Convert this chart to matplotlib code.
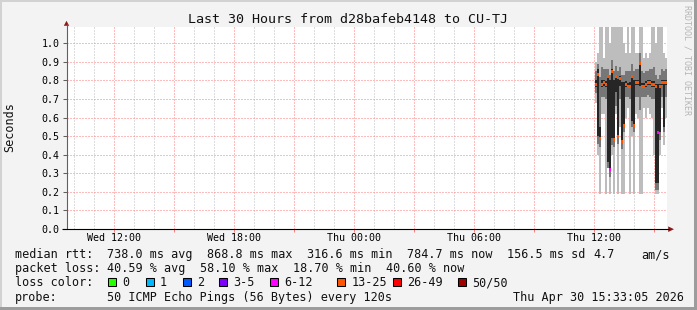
import numpy as np
import matplotlib
matplotlib.use("Agg")
import matplotlib.pyplot as plt
from matplotlib.patches import Rectangle, Polygon

plt.rcParams['font.family'] = ['DejaVu Sans Mono']

# ---------------- data ----------------
title = "Last 30 Hours from d28bafeb4148 to CU-TJ"
ylabel = "Seconds"
view_start, view_end = 9.635, 39.635          # hours since Wed 00:00
tick_hours = [12, 18, 24, 30, 36]
tick_labels = ["Wed 12:00", "Wed 18:00", "Thu 00:00", "Thu 06:00", "Thu 12:00"]
y_ticks = [0.0, 0.1, 0.2, 0.3, 0.4, 0.5, 0.6, 0.7, 0.8, 0.9, 1.0]

first_step = 36.035                            # Thu 12:02
step_hours = 0.1
median = [0.78, 0.83, 0.49, 0.78, 0.79, 0.78, 0.82, 0.32, 0.85, 0.48, 0.82, 0.50,
          0.81, 0.47, 0.56, 0.78, 0.77, 0.77, 0.82, 0.56, 0.79, 0.79, 0.89, 0.77,
          0.77, 0.78, 0.79, 0.79, 0.78, 0.78, 0.77, 0.52, 0.77, 0.79, 0.79, 0.79]
smoke_min = [0.68, 0.40, 0.19, 0.62, 0.62, 0.19, 0.60, 0.19, 0.40, 0.19, 0.62, 0.19,
             0.55, 0.19, 0.19, 0.60, 0.65, 0.19, 0.50, 0.19, 0.62, 0.60, 0.19, 0.19,
             0.65, 0.60, 0.65, 0.62, 0.60, 0.40, 0.19, 0.19, 0.40, 0.65, 0.45, 0.60]
smoke_max = [0.90, 0.95, 1.10, 1.10, 0.92, 1.10, 1.10, 1.00, 1.10, 1.10, 1.10, 1.10,
             1.10, 1.10, 1.00, 0.95, 1.10, 0.95, 1.10, 1.10, 0.95, 0.95, 1.10, 1.10,
             0.92, 0.95, 0.92, 0.95, 1.10, 1.10, 1.00, 1.10, 1.10, 1.10, 0.95, 0.92]
smoke_q_lo = [0.73, 0.46, 0.44, 0.71, 0.71, 0.70, 0.33, 0.28, 0.45, 0.44, 0.66, 0.46,
              0.70, 0.43, 0.52, 0.71, 0.71, 0.70, 0.55, 0.52, 0.71, 0.71, 0.64, 0.71,
              0.71, 0.71, 0.72, 0.71, 0.70, 0.70, 0.21, 0.21, 0.48, 0.71, 0.52, 0.71]
smoke_q_hi = [0.85, 0.89, 0.82, 0.87, 0.86, 0.86, 0.86, 0.83, 0.91, 0.85, 0.88, 0.85,
              0.87, 0.83, 0.83, 0.85, 0.85, 0.85, 0.89, 0.85, 0.86, 0.86, 0.95, 0.85,
              0.84, 0.85, 0.85, 0.86, 0.86, 0.87, 0.83, 0.81, 0.83, 0.86, 0.85, 0.86]
core_lo = [0.765, 0.50, 0.48, 0.765, 0.77, 0.765, 0.36, 0.31, 0.49, 0.48, 0.74, 0.50,
           0.77, 0.47, 0.56, 0.765, 0.76, 0.76, 0.58, 0.56, 0.775, 0.775, 0.77, 0.76,
           0.76, 0.765, 0.775, 0.775, 0.765, 0.765, 0.25, 0.25, 0.52, 0.775, 0.55, 0.775]
core_hi = [0.80, 0.86, 0.55, 0.80, 0.805, 0.795, 0.83, 0.80, 0.86, 0.80, 0.83, 0.81,
           0.825, 0.79, 0.79, 0.795, 0.785, 0.79, 0.83, 0.80, 0.805, 0.805, 0.90, 0.785,
           0.785, 0.795, 0.805, 0.805, 0.795, 0.795, 0.78, 0.78, 0.78, 0.805, 0.80, 0.805]
lost_pings = [20, 20, 20, 18, 18, 20, 20, 10, 20, 20, 20, 20,
              18, 20, 20, 18, 18, 20, 20, 20, 18, 18, 20, 18,
              18, 18, 18, 18, 20, 20, 20, 10, 20, 18, 20, 18]

rtt_stats = [738.0, 868.8, 316.6, 784.7, 156.5]   # avg max min now sd (ms)
am_s = 4.7
loss_stats = [40.59, 58.10, 18.70, 40.60]         # avg max min now (%)
loss_bins = ["0", "1", "2", "3-5", "6-12", "13-25", "26-49", "50/50"]
loss_upper = [0, 1, 2, 5, 12, 25, 49, 50]
loss_colors = ["#26ff00", "#00b8ff", "#0059ff", "#7e00ff", "#ff00ff",
               "#ff5500", "#ff0000", "#a10000"]
probe_text = "50 ICMP Echo Pings (56 Bytes) every 120s"
stamp_text = "Thu Apr 30 15:33:05 2026"

# ---------------- figure ----------------
W, H = 697, 310
fig = plt.figure(figsize=(W / 100, H / 100), dpi=100, facecolor="#f3f3f3")

px0, py0 = 67, 229          # plot origin in pixels
ppu = 185.7                 # pixels per second on y
ax = fig.add_axes([px0 / W, (H - py0) / H, 600 / W, 202 / H])
ax.set_facecolor("white")
ax.set_xlim(view_start, view_end)
ax.set_ylim(0, 202 / ppu)
for s in ax.spines.values():
    s.set_visible(False)

red_grid = "#ff7a7a"
gray_grid = "#bcbcbc"
for h in range(10, 40):
    ax.axvline(h, color=red_grid if h % 3 == 0 else gray_grid, lw=0.72,
               ls=(0, (1, 2)), zorder=1)
for v in y_ticks[1:]:
    ax.axhline(v, color=red_grid, lw=0.72, ls=(0, (1, 2)), zorder=1)

n = len(median)
t = np.round(first_step + step_hours * np.arange(n), 3)
med = np.array(median)
ax.bar(t + 0.02, np.array(smoke_max) - np.array(smoke_min), bottom=smoke_min,
       color="#bdbdbd", width=step_hours * 0.65, align="edge", linewidth=0,
       antialiased=False, zorder=2)
ax.bar(t, np.array(smoke_q_hi) - np.array(smoke_q_lo), bottom=smoke_q_lo,
       color="#777777", width=step_hours, align="edge", linewidth=0,
       antialiased=False, zorder=2)
ax.bar(t, np.array(core_hi) - np.array(core_lo), bottom=core_lo,
       color="#262626", width=step_hours, align="edge", linewidth=0,
       antialiased=False, zorder=2)


def loss_color(k):
    for up, c in zip(loss_upper, loss_colors):
        if k <= up:
            return c
    return loss_colors[-1]


mcol = [loss_color(k) for k in lost_pings]
ax.bar(t, 3.0 / ppu, bottom=med - 1.5 / ppu, color=mcol,
       width=step_hours, align="edge", linewidth=0, antialiased=False, zorder=3)

ax.set_yticks(y_ticks)
ax.set_yticklabels([f"{v:.1f}" for v in y_ticks])
ax.tick_params(axis="y", length=3.0, width=0.75, color="#606060", pad=2.2,
               labelsize=7.2)
major_h = list(range(12, 40, 3))
ax.set_xticks(major_h)
ax.set_xticklabels([tick_labels[tick_hours.index(h)] if h in tick_hours else ""
                    for h in major_h])
ax.tick_params(axis="x", length=2.2, width=0.75, color="#ff8080", pad=0.6,
               labelsize=7.2)

# ---------------- overlay in pixel coordinates ----------------
ov = fig.add_axes([0, 0, 1, 1], zorder=5)
ov.set_xlim(0, W)
ov.set_ylim(H, 0)
ov.axis("off")
ov.patch.set_alpha(0)

ov.add_patch(Rectangle((0, 0), W, 2, color="#d2d2d2", lw=0))
ov.add_patch(Rectangle((0, 0), 2, H, color="#d2d2d2", lw=0))
ov.add_patch(Rectangle((W - 3, 0), 3, H, color="#9c9c9c", lw=0))
ov.add_patch(Rectangle((0, H - 3), W, 3, color="#9c9c9c", lw=0))

ov.plot([66.5, 66.5], [py0, 24], color="#606060", lw=0.8, solid_capstyle="butt")
ov.plot([62, 669], [py0 + 0.3, py0 + 0.3], color="#000000", lw=0.8, solid_capstyle="butt")
arrow_c = "#8c1a1a"
ov.add_patch(Polygon([(63.8, 25.8), (69.2, 25.8), (66.5, 20.8)], closed=True,
                     color=arrow_c, lw=0))
ov.add_patch(Polygon([(668.2, py0 - 2.6), (668.2, py0 + 3.0), (674, py0 + 0.2)],
                     closed=True, color=arrow_c, lw=0))

ov.text(348.5, 23.3, title, ha="center", va="baseline", fontsize=9.6, color="#111111")
ov.text(10, 127, ylabel, rotation=90, ha="center", va="center", fontsize=8.5,
        color="#111111")
ov.text(687.5, 60, "RRDTOOL / TOBI OETIKER", rotation=270, ha="center",
        va="center", fontsize=6, color="#b5b5b5")

fs = 8.5
tc = "#111111"
b1, b2, b3, b4 = 258.3, 272.3, 286.3, 300.5
ov.text(15.3, b1, "median rtt:", fontsize=fs, color=tc, va="baseline")
for x, txt in zip([106.6, 206.6, 306.6, 406.6, 506.6],
                  [f"{rtt_stats[0]:.1f} ms avg", f"{rtt_stats[1]:.1f} ms max",
                   f"{rtt_stats[2]:.1f} ms min", f"{rtt_stats[3]:.1f} ms now",
                   f"{rtt_stats[4]:.1f} ms sd"]):
    ov.text(x, b1, txt, fontsize=fs, color=tc, va="baseline")
ov.text(593.5, b1, f"{am_s:.1f}", fontsize=fs, color=tc, va="baseline")
ov.text(641.6, b1, "am/s", fontsize=fs, color=tc, va="baseline")

ov.text(15.3, b2, "packet loss:", fontsize=fs, color=tc, va="baseline")
for x, txt in zip([106.6, 199.8, 292.8, 385.8],
                  [f"{loss_stats[0]:.2f} % avg", f"{loss_stats[1]:.2f} % max",
                   f"{loss_stats[2]:.2f} % min", f"{loss_stats[3]:.2f} % now"]):
    ov.text(x, b2, txt, fontsize=fs, color=tc, va="baseline")

ov.text(15.3, b3, "loss color:", fontsize=fs, color=tc, va="baseline")
box_x = [108.3, 145.7, 183.3, 219.3, 270.3, 337.3, 393.3, 458.3]
for bx, lab, c in zip(box_x, loss_bins, loss_colors):
    ov.add_patch(Rectangle((bx, b3 - 8), 8, 8, facecolor=c, edgecolor="#000000",
                           lw=0.75))
    ov.text(bx + 14.3, b3, lab, fontsize=fs, color=tc, va="baseline")

ov.text(15.3, b4, "probe:", fontsize=fs, color=tc, va="baseline")
ov.text(106.6, b4, probe_text, fontsize=fs, color=tc, va="baseline")
ov.text(512.6, b4, stamp_text, fontsize=fs, color=tc, va="baseline")

fig.savefig("out.png", dpi=100, facecolor=fig.get_facecolor())
